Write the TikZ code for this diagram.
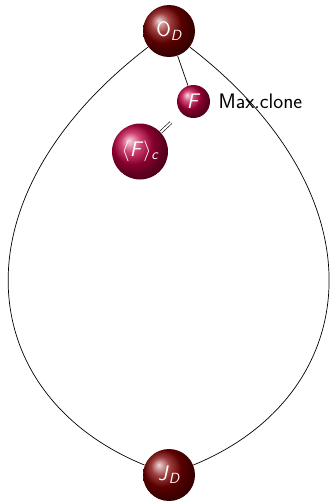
\documentclass[tikz,border=0pt]{standalone}
\usepackage{amsmath}
\usepackage{tikz}
\usetikzlibrary{positioning,shadings}

\begin{document}
\begin{tikzpicture}[
      x=1pt, y=1pt,
      line width=0.7pt,
      every node/.style={font=\sffamily\fontsize{21}{24}\selectfont},
      ballnode/.style={circle, inner sep=0pt, text=white, shading=ball},
      extreme/.style={ballnode, ball color=red!50!black, minimum size=52pt},
      clone/.style={ballnode, ball color=purple},
      tag/.style={font=\sffamily\fontsize{21}{24}\selectfont, inner sep=0pt}
    ]
    \useasboundingbox (0,0) rectangle (330,-501);

    \node[extreme] (OD) at (169,-31) {O$_{\textit{D}}$};
    \node[extreme] (JD) at (169,-475) {\textit{J}$_{\textit{D}}$};
    \node[clone, minimum size=33pt] (F) at (193.5,-101.5) {\textit{F}};
    \node[clone, minimum size=56pt] (Fc) at (140,-151.5) {$\langle$\textit{F}$\rangle_{\textit{c}}$};
    \node[tag, right=8pt of F] (max) {Max.clone};

    % outer boundary of the interval
    \draw (OD) .. controls (-50.5,-199.5) and (-25,-396) .. (JD);
    \draw (OD) .. controls (387.5,-199.5) and (362,-396) .. (JD);

    \draw (OD) -- (F);
    \draw[double, double distance=2pt, line width=0.6pt, shorten >=14pt] (Fc) -- (F);
  \end{tikzpicture}
\end{document}
